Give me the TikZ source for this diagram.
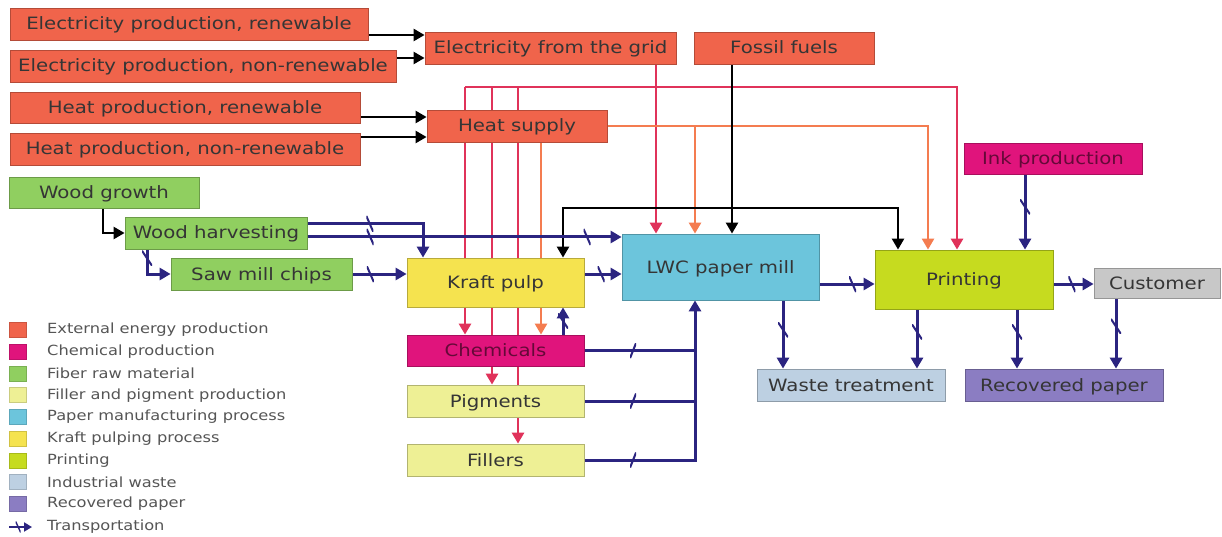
\documentclass[tikz,border=0pt]{standalone}
\usepackage{fontspec}
\setmainfont{DejaVu Sans}[FakeStretch=1.16]
\usetikzlibrary{arrows.meta}
\definecolor{energy}{HTML}{F0644B}
\definecolor{chem}{HTML}{E0147C}
\definecolor{fiber}{HTML}{90CF60}
\definecolor{filler}{HTML}{EEF095}
\definecolor{paper}{HTML}{6CC5DC}
\definecolor{kraftc}{HTML}{F5E34F}
\definecolor{printc}{HTML}{C6DB1F}
\definecolor{waste}{HTML}{BDD0E2}
\definecolor{recov}{HTML}{8B7DC2}
\definecolor{custc}{HTML}{C8C8C8}
\definecolor{trans}{HTML}{2B2480}
\definecolor{elec}{HTML}{E0325A}
\definecolor{heatc}{HTML}{F47C50}
\definecolor{txt}{HTML}{353535}
\definecolor{legtxt}{HTML}{555555}
\pgfdeclarelayer{bg}
\pgfsetlayers{bg,main}
\tikzset{
  box/.style={draw=#1!75!black, fill=#1, line width=0.8pt, inner sep=0pt,
    text=txt, text height=13pt, text depth=1pt, font=\fontsize{17}{20}\selectfont},
  tip/.style={-{Triangle[length=11pt,width=12pt]}},
  tr/.style={draw=trans, line width=3pt},
  el/.style={draw=elec, line width=2.8pt},
  ht/.style={draw=heatc, line width=2.4pt},
  blk/.style={draw=black, line width=2.4pt},
  % transport ticks
  tk/.style={inner sep=0pt, minimum width=7pt, minimum height=16pt,
    path picture={\draw[-, trans, line width=2pt] (path picture bounding box.north west) -- (path picture bounding box.south east);}},
  tkf/.style={inner sep=0pt, minimum width=6pt, minimum height=15pt,
    path picture={\draw[-, trans, line width=2pt] (path picture bounding box.south west) -- (path picture bounding box.north east);}},
  tkv/.style={inner sep=0pt, minimum width=10pt, minimum height=15pt,
    path picture={\draw[-, trans, line width=2pt] (path picture bounding box.north west) -- (path picture bounding box.south east);}},
  legsq/.style={fill=#1, draw=#1!85!black, line width=0.6pt, minimum width=17pt, minimum height=15pt, inner sep=0pt},
  legtx/.style={anchor=west, inner sep=0pt, text=legtxt, font=\fontsize{14}{16}\selectfont}
}
\begin{document}
\begin{tikzpicture}[x=1pt,y=-1pt]
  \begin{pgfonlayer}{bg}
    \fill[white] (0,0) rectangle (1222,537);
  \end{pgfonlayer}
  \useasboundingbox (0,0) rectangle (1222,537);
  % energy supply
  \node[box=energy, minimum width=358pt, minimum height=32pt] (e1) at (189,24) {Electricity production, renewable};
  \node[box=energy, minimum width=386pt, minimum height=32pt] (e2) at (203,66) {Electricity production, non-renewable};
  \node[box=energy, minimum width=350pt, minimum height=31pt] (h1) at (185,107.5) {Heat production, renewable};
  \node[box=energy, minimum width=350pt, minimum height=32pt] (h2) at (185,149) {Heat production, non-renewable};
  \node[box=energy, minimum width=251pt, minimum height=32pt] (grid) at (550.5,48) {Electricity from the grid};
  \node[box=energy, minimum width=180pt, minimum height=32pt] (fossil) at (784,48) {Fossil fuels};
  \node[box=energy, minimum width=180pt, minimum height=32pt] (heat) at (517,126) {Heat supply};
  % fibre
  \node[box=fiber, minimum width=190pt, minimum height=31pt] (growth) at (104,192.5) {Wood growth};
  \node[box=fiber, minimum width=182pt, minimum height=32pt] (harv) at (216,233) {Wood harvesting};
  \node[box=fiber, minimum width=181pt, minimum height=32pt] (saw) at (261.5,274) {Saw mill chips};
  % pulp and chemicals
  \node[box=kraftc, minimum width=177pt, minimum height=49pt] (kraft) at (495.5,282.5) {Kraft pulp};
  \node[box=chem, text=chem!45!black, minimum width=177pt, minimum height=31pt] (chem) at (495.5,350.5) {Chemicals};
  \node[box=filler, minimum width=177pt, minimum height=32pt] (pig) at (495.5,401) {Pigments};
  \node[box=filler, minimum width=177pt, minimum height=32pt] (fill) at (495.5,460) {Fillers};
  % paper, printing and after
  \node[box=paper, minimum width=197pt, minimum height=66pt] (lwc) at (720.5,267) {LWC paper mill};
  \node[box=printc, minimum width=178pt, minimum height=59pt] (print) at (964,279.5) {Printing};
  \node[box=chem, text=chem!45!black, minimum width=178pt, minimum height=31pt] (ink) at (1053,158.5) {Ink production};
  \node[box=custc, minimum width=126pt, minimum height=30pt] (cust) at (1157,283) {Customer};
  \node[box=waste, minimum width=188pt, minimum height=32pt] (waste) at (851,385) {Waste treatment};
  \node[box=recov, minimum width=198pt, minimum height=32pt] (recov) at (1064,385) {Recovered paper};
  % flows
  \begin{pgfonlayer}{bg}
    \draw[blk,tip] (e1.east |- 0,35) -- (grid.west |- 0,35);
    \draw[blk,tip] (e2.east |- 0,58) -- (grid.west |- 0,58);
    \draw[blk,tip] (h1.east |- 0,117) -- (heat.west |- 0,117);
    \draw[blk,tip] (h2.east |- 0,137) -- (heat.west |- 0,137);
    % electricity
    \coordinate (eb) at (656,87);
    \draw[el,tip] (grid.south -| eb) -- (lwc.north -| eb);
    \draw[el,tip] (eb -| 465,0) -| (print.north -| 957,0);
    \draw[el,tip] (eb -| 465,0) -- (chem.north -| 465,0);
    \draw[el,tip] (eb -| 492,0) -- (pig.north -| 492,0);
    \draw[el,tip] (eb -| 518,0) -- (fill.north -| 518,0);
    % heat
    \draw[ht,tip] (heat.south -| 541,0) -- (chem.north -| 541,0);
    \draw[ht,tip] (heat.east) -| (print.north -| 928,0);
    \draw[ht,tip] (heat.east -| 695,0) -- (lwc.north -| 695,0);
    % fossil fuels
    \coordinate (fb) at (732,208);
    \draw[blk,tip] (fossil.south -| fb) -- (lwc.north -| fb);
    \draw[blk,tip] (fb) -| (kraft.north -| 563,0);
    \draw[blk,tip] (fb) -| (print.north -| 898,0);
    % wood
    \draw[blk,tip] (growth.south -| 103,0) |- (harv.west);
    \draw[tr,tip] (harv.south -| 147,0) |- node[pos=.18,tkv]{} (saw.west);
    \draw[tr,tip] (harv.east |- 0,224) -| node[pos=.27,tk]{} (kraft.north -| 423,0);
    \draw[tr,tip] (harv.east |- 0,237) -- node[pos=.2,tk]{} node[pos=.89,tk]{} (lwc.west |- 0,237);
    \draw[tr,tip] (saw.east) -- node[pos=.33,tk]{} (kraft.west |- saw.east);
    \draw[tr,tip] (kraft.east |- 0,274) -- node[pos=.45,tk]{} (lwc.west |- 0,274);
    \draw[tr,tip] (chem.north -| 563,0) -- node[tkv]{} (kraft.south -| 563,0);
    % chemicals, pigments, fillers to the mill
    \draw[tr,tip] (fill.east) -| node[pos=.22,tkf]{} (lwc.south -| 695,0);
    \draw[tr] (chem.east) -- node[pos=.44,tkf]{} (chem.east -| 695,0);
    \draw[tr] (pig.east) -- node[pos=.44,tkf]{} (pig.east -| 695,0);
    % products
    \draw[tr,tip] (lwc.east |- 0,284) -- node[pos=.6,tk]{} (print.west |- 0,284);
    \draw[tr,tip] (print.east |- 0,284) -- node[pos=.46,tk]{} (cust.west |- 0,284);
    \draw[tr,tip] (lwc.south -| 783,0) -- node[pos=.43,tkv]{} (waste.north -| 783,0);
    \draw[tr,tip] (print.south -| 917,0) -- node[pos=.38,tkv]{} (waste.north -| 917,0);
    \draw[tr,tip] (print.south -| 1017,0) -- node[pos=.38,tkv]{} (recov.north -| 1017,0);
    \draw[tr,tip] (cust.south -| 1116,0) -- node[pos=.4,tkv]{} (recov.north -| 1116,0);
    \draw[tr,tip] (ink.south -| 1025,0) -- node[pos=.43,tkv]{} (print.north -| 1025,0);
  \end{pgfonlayer}
  % legend
  \foreach \c/\t [count=\i from 0] in {energy/External energy production, chem/Chemical production,
      fiber/Fiber raw material, filler/Filler and pigment production, paper/Paper manufacturing process,
      kraftc/Kraft pulping process, printc/Printing, waste/Industrial waste, recov/Recovered paper} {
    \node[legsq=\c] (lq\i) at (17.5,330+21.75*\i) {};
    \node[legtx] (lt\i) at (47,330+21.75*\i) {\t};
  }
  \coordinate (t0) at (9,527);
  \coordinate (t1) at (32,527);
  \draw[draw=trans, line width=1.8pt, -{Triangle[length=8pt,width=9pt]}] (t0) -- node[pos=.4, inner sep=0pt, minimum width=5pt, minimum height=11pt,
    path picture={\draw[-, trans, line width=1.4pt] (path picture bounding box.north west) -- (path picture bounding box.south east);}]{} (t1);
  \node[legtx] (lt9) at (47,527) {Transportation};
\end{tikzpicture}
\end{document}
